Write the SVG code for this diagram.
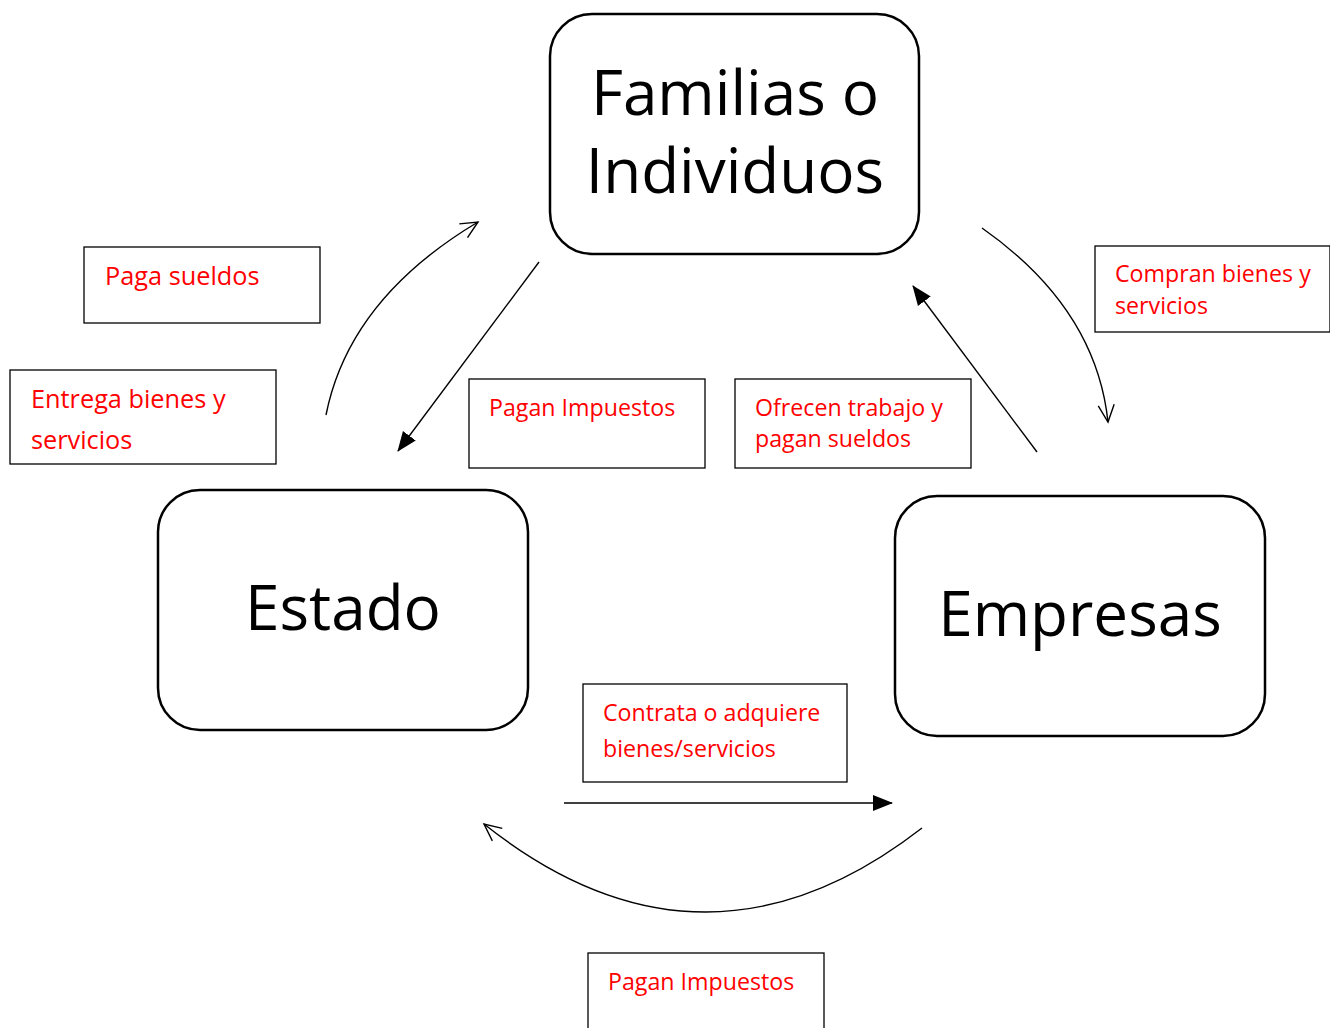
<svg xmlns="http://www.w3.org/2000/svg" width="1330" height="1028" viewBox="0 0 1330 1028">
<style>
.node{fill:#fff;stroke:#000;stroke-width:2.5}
.big{font-family:"Open Sans","Liberation Sans",sans-serif;font-size:62px;fill:#000;text-anchor:middle}
.lbox{fill:#fff;stroke:#000;stroke-width:1.3}
.lbl{font-family:"Open Sans","Liberation Sans",sans-serif;font-size:23.2px;fill:#ff0000}
.lbl.lg{font-size:25.3px}
.conn{fill:none;stroke:#000;stroke-width:1.4}
</style>
<defs>
<marker id="open" viewBox="0 0 20 20" refX="18" refY="10" markerWidth="20" markerHeight="20" markerUnits="userSpaceOnUse" orient="auto">
<path d="M1,2 L18,10 L1,18" fill="none" stroke="#000" stroke-width="1.4"/>
</marker>
<marker id="fill" viewBox="0 0 20 20" refX="19" refY="10" markerWidth="20" markerHeight="20" markerUnits="userSpaceOnUse" orient="auto">
<path d="M0,2 L20,10 L0,18 z" fill="#000"/>
</marker>
</defs>
<g id="connectors">
<path class="conn" d="M326,415 Q349,299 478,222" marker-end="url(#open)"/>
<line class="conn" x1="539" y1="262" x2="398" y2="451" marker-end="url(#fill)"/>
<path class="conn" d="M982,228 Q1096,308 1108,422" marker-end="url(#open)"/>
<line class="conn" x1="1037" y1="452" x2="913" y2="286" marker-end="url(#fill)"/>
<line class="conn" x1="564" y1="803" x2="892" y2="803" marker-end="url(#fill)"/>
<path class="conn" d="M922,828 Q703,998 484,824" marker-end="url(#open)"/>
</g>
<g id="familias">
<rect class="node" x="550" y="14" width="369" height="240" rx="42"/>
<text class="big" x="735" y="115">Familias o</text>
<text class="big" x="735" y="193">Individuos</text>
</g>
<g id="estado">
<rect class="node" x="158" y="490" width="370" height="240" rx="42"/>
<text class="big" x="343" y="630">Estado</text>
</g>
<g id="empresas">
<rect class="node" x="895" y="496" width="370" height="240" rx="42"/>
<text class="big" x="1080" y="636">Empresas</text>
</g>
<g id="lbl-paga-sueldos">
<rect class="lbox" x="84" y="247" width="236" height="76"/>
<text class="lbl lg" x="105" y="285">Paga sueldos</text>
</g>
<g id="lbl-entrega">
<rect class="lbox" x="10" y="370" width="266" height="94"/>
<text class="lbl lg" x="31" y="408">Entrega bienes y</text>
<text class="lbl lg" x="31" y="449">servicios</text>
</g>
<g id="lbl-pagan-impuestos-1">
<rect class="lbox" x="469" y="379" width="236" height="89"/>
<text class="lbl" x="489" y="416">Pagan Impuestos</text>
</g>
<g id="lbl-ofrecen">
<rect class="lbox" x="735" y="379" width="236" height="89"/>
<text class="lbl" x="755" y="416">Ofrecen trabajo y</text>
<text class="lbl" x="755" y="447">pagan sueldos</text>
</g>
<g id="lbl-compran">
<rect class="lbox" x="1095" y="246" width="235" height="86"/>
<text class="lbl" x="1115" y="282">Compran bienes y</text>
<text class="lbl" x="1115" y="314">servicios</text>
</g>
<g id="lbl-contrata">
<rect class="lbox" x="583" y="684" width="264" height="98"/>
<text class="lbl" x="603" y="721">Contrata o adquiere</text>
<text class="lbl" x="603" y="757">bienes/servicios</text>
</g>
<g id="lbl-pagan-impuestos-2">
<rect class="lbox" x="588" y="953" width="236" height="82"/>
<text class="lbl" x="608" y="990">Pagan Impuestos</text>
</g>
</svg>
